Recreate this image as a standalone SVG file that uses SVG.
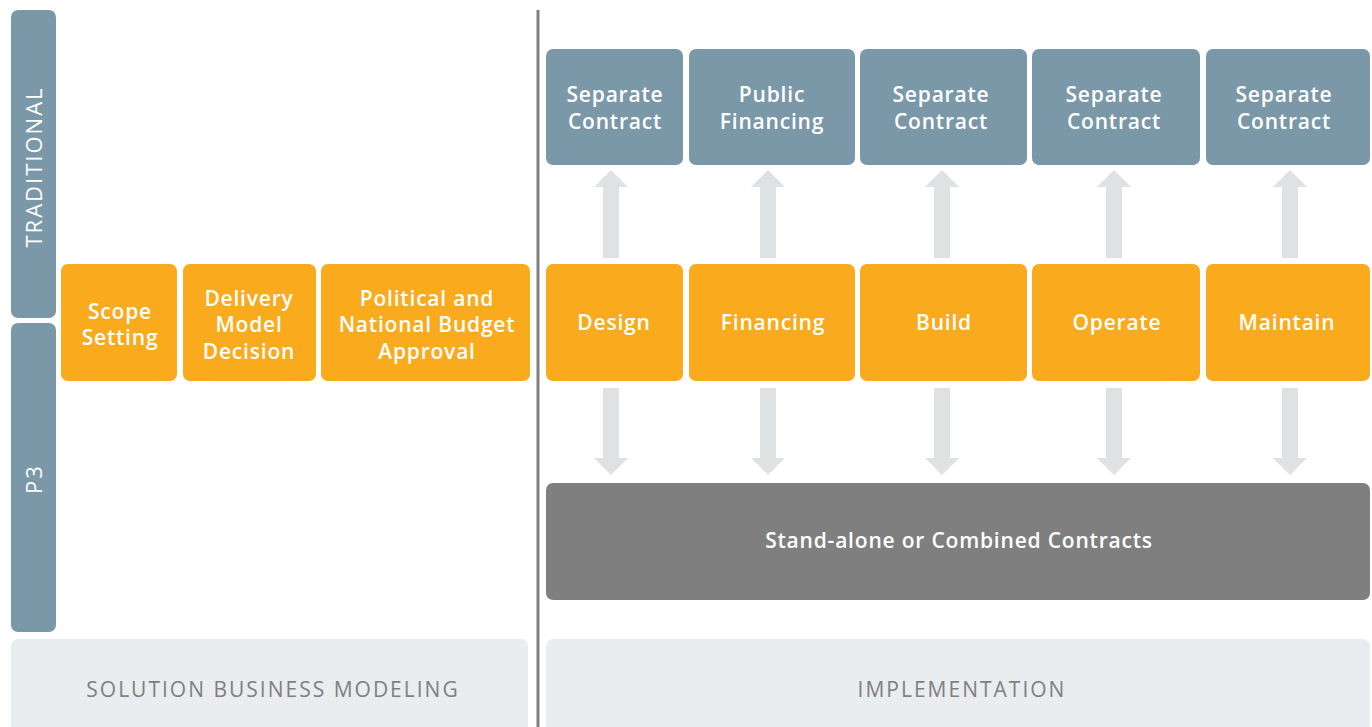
<svg xmlns="http://www.w3.org/2000/svg" width="1372" height="727" viewBox="0 0 1372 727">
<style>
.blue{fill:#7b98a8}
.or{fill:#f9ab1d}
.dk{fill:#7f7f80}
.lt{fill:#eaedf0}
.ar{fill:#e0e1e3}
text{font-family:"Open Sans","Liberation Sans",sans-serif;font-weight:600;text-anchor:middle}
.w{fill:#ffffff;font-size:21px;letter-spacing:0.8px}
.g{fill:#7f7f80;font-size:21px;font-weight:400;letter-spacing:2px}
.side{fill:#ffffff;font-size:22px;font-weight:400;letter-spacing:2px}
</style>
<defs>
<path id="up" d="M0,0 L17,17 L8,17 L8,88 L-8,88 L-8,17 L-17,17 Z"/>
<path id="down" d="M0,0 L17,-17 L8,-17 L8,-87 L-8,-87 L-8,-17 L-17,-17 Z"/>
</defs>
<rect width="1372" height="727" fill="#ffffff"/>
<g id="bottom-panels">
<rect class="lt" x="11" y="639" width="517" height="100" rx="7"/>
<text class="g" x="273" y="697">SOLUTION BUSINESS MODELING</text>
<rect class="lt" x="546" y="639" width="824" height="100" rx="7"/>
<text class="g" x="962" y="697">IMPLEMENTATION</text>
</g>
<g id="lane-traditional">
<rect class="blue" x="11" y="10" width="45" height="308" rx="7"/>
<text class="side" transform="translate(42,167) rotate(-90)">TRADITIONAL</text>
</g>
<g id="lane-p3">
<rect class="blue" x="11" y="323" width="45" height="309" rx="7"/>
<text class="side" transform="translate(42,479) rotate(-90)">P3</text>
</g>
<rect id="divider" x="536.5" y="10" width="3" height="717" fill="#808080"/>
<g id="scope"><rect class="or" x="61" y="264" width="116" height="117" rx="7"/><text class="w" x="120" y="319">Scope</text><text class="w" x="120" y="345">Setting</text></g>
<g id="delivery"><rect class="or" x="183" y="264" width="133" height="117" rx="7"/><text class="w" x="249" y="306">Delivery</text><text class="w" x="249" y="332">Model</text><text class="w" x="249" y="359">Decision</text></g>
<g id="political"><rect class="or" x="321" y="264" width="209" height="117" rx="7"/><text class="w" x="427" y="306">Political and</text><text class="w" x="427" y="332">National Budget</text><text class="w" x="427" y="359">Approval</text></g>
<g id="sc1"><rect class="blue" x="546" y="49" width="137" height="116" rx="7"/><text class="w" x="615" y="102">Separate</text><text class="w" x="615" y="129">Contract</text></g>
<g id="pf"><rect class="blue" x="689" y="49" width="166" height="116" rx="7"/><text class="w" x="772" y="102">Public</text><text class="w" x="772" y="129">Financing</text></g>
<g id="sc2"><rect class="blue" x="860" y="49" width="167" height="116" rx="7"/><text class="w" x="941" y="102">Separate</text><text class="w" x="941" y="129">Contract</text></g>
<g id="sc3"><rect class="blue" x="1032" y="49" width="168" height="116" rx="7"/><text class="w" x="1114" y="102">Separate</text><text class="w" x="1114" y="129">Contract</text></g>
<g id="sc4"><rect class="blue" x="1206" y="49" width="164" height="116" rx="7"/><text class="w" x="1284" y="102">Separate</text><text class="w" x="1284" y="129">Contract</text></g>
<g id="design"><rect class="or" x="546" y="264" width="137" height="117" rx="7"/><text class="w" x="614" y="330">Design</text></g>
<g id="financing"><rect class="or" x="689" y="264" width="166" height="117" rx="7"/><text class="w" x="773" y="330">Financing</text></g>
<g id="build"><rect class="or" x="860" y="264" width="167" height="117" rx="7"/><text class="w" x="944" y="330">Build</text></g>
<g id="operate"><rect class="or" x="1032" y="264" width="168" height="117" rx="7"/><text class="w" x="1117" y="330">Operate</text></g>
<g id="maintain"><rect class="or" x="1206" y="264" width="164" height="117" rx="7"/><text class="w" x="1287" y="330">Maintain</text></g>
<g id="combined"><rect class="dk" x="546" y="483" width="824" height="117" rx="7"/><text class="w" x="959" y="548">Stand-alone or Combined Contracts</text></g>
<g id="connectors" class="ar">
<use href="#up" x="611" y="170"/>
<use href="#up" x="768" y="170"/>
<use href="#up" x="942" y="170"/>
<use href="#up" x="1114" y="170"/>
<use href="#up" x="1290" y="170"/>
<use href="#down" x="611" y="475"/>
<use href="#down" x="768" y="475"/>
<use href="#down" x="942" y="475"/>
<use href="#down" x="1114" y="475"/>
<use href="#down" x="1290" y="475"/>
</g>
</svg>
